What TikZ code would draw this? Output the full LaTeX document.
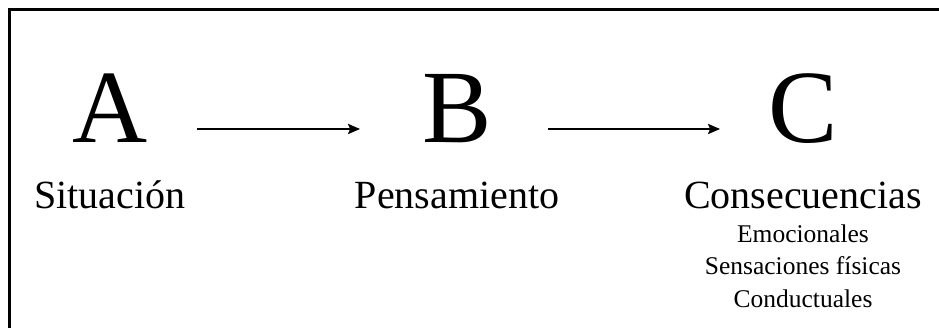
\documentclass[tikz,border=0pt]{standalone}
\usepackage{fontspec}
\setmainfont{Liberation Serif}
\usepackage{tikz}
\usetikzlibrary{arrows.meta, positioning}

\begin{document}
\begin{tikzpicture}[x=1pt, y=-1pt,
            big/.style={inner sep=0pt, anchor=base, font=\fontsize{104}{104}\selectfont},
            lbl/.style={inner sep=0pt, anchor=base, font=\fontsize{40}{44}\selectfont},
            sub/.style={inner sep=0pt, anchor=base, font=\fontsize{25.5}{30}\selectfont},
            a/.style={-{Stealth[length=12pt, width=10pt, inset=2pt]}, line width=2.9pt}
          ]
          \useasboundingbox (0,0) rectangle (939,327);
          % frame (only top and left edges show)
          \draw[line width=2.2pt] (9.5,340) -- (9.5,9.5) -- (950,9.5);
          \node[big] (ltA) at (110,142) {A};
          \node[big] (ltB) at (457,142) {B};
          \node[big] (ltC) at (803,142) {C};
          \node[lbl] (sit) at (110,208) {Situación};
          \node[lbl] (pen) at (457,208) {Pensamiento};
          \node[lbl] (con) at (803,208) {Consecuencias};
          \node[sub] (emo) at (803,242) {Emocionales};
          \node[sub] (fis) at (803,274.5) {Sensaciones físicas};
          \node[sub] (cdt) at (803,307) {Conductuales};
          \draw[a] ([xshift=49pt, yshift=13pt]ltA.base east) -- ([xshift=-62pt, yshift=13pt]ltB.base west);
          \draw[a] ([xshift=56pt, yshift=13pt]ltB.base east) -- ([xshift=-48pt, yshift=13pt]ltC.base west);
        \end{tikzpicture}
\end{document}
